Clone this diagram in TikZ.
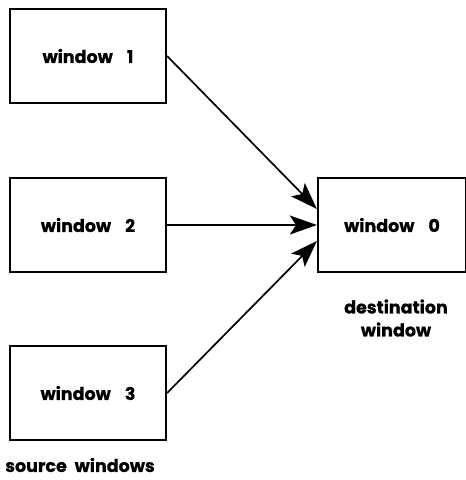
\documentclass[tikz,border=0pt]{standalone}
\usepackage{fontspec}
\setmainfont{Poppins}[BoldFeatures={FakeBold=0.7}]
\usetikzlibrary{arrows.meta}
\begin{document}
\begin{tikzpicture}[x=1pt,y=-1pt,
  winbox/.style={draw, line width=2.2pt, minimum width=156pt, minimum height=94pt, inner sep=0pt},
  lbl/.style={font=\bfseries\fontsize{17.5}{20}\selectfont},
  link/.style={line width=1.7pt, -{Stealth[length=27pt,width=19pt,inset=6pt]}}]
  \useasboundingbox (0,0) rectangle (466,480);
  % source windows
  \node[winbox, lbl] (w1) at (88,56)  {window\hspace{0.8em}1};
  \node[winbox, lbl] (w2) at (88,225) {window\hspace{0.8em}2};
  \node[winbox, lbl] (w3) at (88,393) {window\hspace{0.8em}3};
  % destination window
  \node[winbox, lbl, minimum width=148pt] (w0) at (392,225) {window\hspace{0.8em}0};
  % captions
  \node[lbl] (src) at (80,465) {source\hspace{0.45em}windows};
  \node[lbl, align=center] (dst) at (396,318) {destination\\[3pt]window};
  % connectors
  \draw[link] (w1.east) -- ([yshift=16pt]w0.west);
  \draw[link] (w2.east) -- (w0.west);
  \draw[link] (w3.east) -- ([yshift=-16pt]w0.west);
\end{tikzpicture}
\end{document}
